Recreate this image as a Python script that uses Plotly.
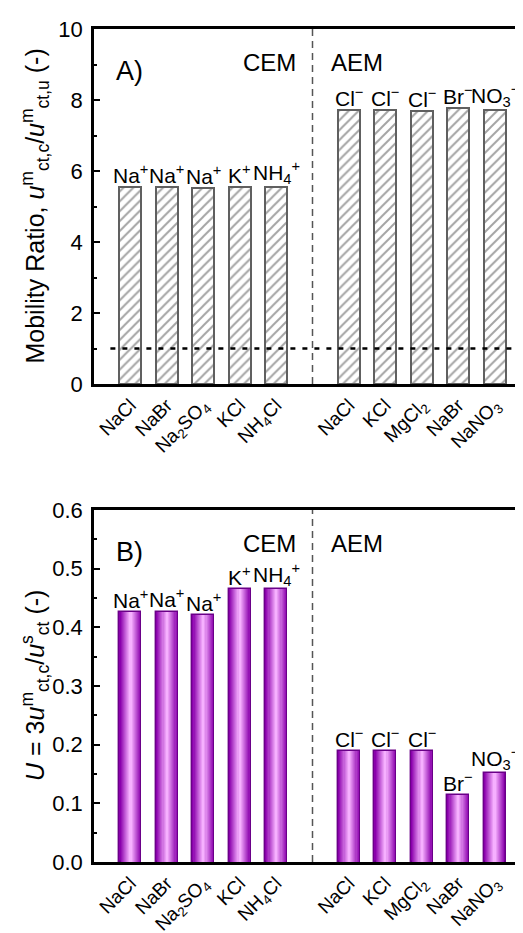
import plotly.graph_objects as go

# ---------------- data ----------------
cem_salts = ["NaCl", "NaBr", "Na<sub>2</sub>SO<sub>4</sub>", "KCl", "NH<sub>4</sub>Cl"]
aem_salts = ["NaCl", "KCl", "MgCl<sub>2</sub>", "NaBr", "NaNO<sub>3</sub>"]
cem_ions = ["Na<sup>+</sup>", "Na<sup>+</sup>", "Na<sup>+</sup>", "K<sup>+</sup>", "NH<sub>4</sub><sup>+</sup>"]
aem_ions = ["Cl<sup>−</sup>", "Cl<sup>−</sup>", "Cl<sup>−</sup>", "Br<sup>−</sup>", "NO<sub>3</sub><sup>−</sup>"]
mobility_cem = [5.55, 5.55, 5.52, 5.54, 5.54]
mobility_aem = [7.71, 7.71, 7.69, 7.77, 7.72]
U_cem = [0.426, 0.427, 0.421, 0.466, 0.466]
U_aem = [0.190, 0.190, 0.190, 0.114, 0.152]
ref_ratio = 1.0

# positions: CEM at 0..4, gap at 5, AEM at 6..10
x_cem = list(range(len(cem_salts)))
x_aem = [len(cem_salts) + 1 + i for i in range(len(aem_salts))]
x_all = x_cem + x_aem
salts_all = cem_salts + aem_salts
ions_all = cem_ions + aem_ions
mob_all = mobility_cem + mobility_aem
U_all = U_cem + U_aem
sep_x = len(cem_salts)

FONT = "Arial, 'Liberation Sans', sans-serif"
BW = 0.6

fig = go.Figure()

# Panel A: hatched bars
fig.add_trace(go.Bar(
    x=x_all, y=mob_all, width=BW, xaxis="x", yaxis="y",
    marker=dict(color="white", line=dict(color="#606060", width=2),
                pattern=dict(shape="/", fgcolor="#4a4a4a", bgcolor="white",
                             size=7, solidity=0.28)),
    showlegend=False, hoverinfo="skip"))

# Panel B: purple gradient bars (stacked overlay layers)
n_layers = 10
dark = (138, 0, 172)
light = (246, 176, 255)
for k in range(n_layers):
    t = k / (n_layers - 1)
    c = tuple(int(dark[i] + (light[i] - dark[i]) * t) for i in range(3))
    w = BW * (1 - k / n_layers)
    fig.add_trace(go.Bar(
        x=x_all, y=U_all, width=w, xaxis="x2", yaxis="y2",
        marker=dict(color="rgb(%d,%d,%d)" % c,
                    line=dict(color="#6a0088" if k == 0 else "rgba(0,0,0,0)",
                              width=1.4 if k == 0 else 0)),
        showlegend=False, hoverinfo="skip"))

ann = []
LBL = 21
for xi, yi, lab in zip(x_all, mob_all, ions_all):
    ann.append(dict(x=xi, y=yi, xref="x", yref="y", text=lab, showarrow=False,
                    yanchor="bottom", yshift=-2, font=dict(size=LBL, color="black", family=FONT)))
for xi, yi, lab in zip(x_all, U_all, ions_all):
    ann.append(dict(x=xi, y=yi, xref="x2", yref="y2", text=lab, showarrow=False,
                    yanchor="bottom", yshift=-2, font=dict(size=LBL, color="black", family=FONT)))

for xr, yr, lbl, ytop in [("x", "y", "A)", 8.82), ("x2", "y2", "B)", 0.529)]:
    ann.append(dict(x=-0.45, y=ytop, xref=xr, yref=yr, text=lbl, showarrow=False,
                    xanchor="left", yanchor="middle", font=dict(size=27, color="black", family=FONT)))
for xr, yr, ytop in [("x", "y", 9.05), ("x2", "y2", 0.543)]:
    ann.append(dict(x=sep_x - 0.4, y=ytop, xref=xr, yref=yr, text="CEM", showarrow=False,
                    xanchor="right", yanchor="middle", font=dict(size=24, color="black", family=FONT)))
    ann.append(dict(x=sep_x + 0.45, y=ytop, xref=xr, yref=yr, text="AEM", showarrow=False,
                    xanchor="left", yanchor="middle", font=dict(size=24, color="black", family=FONT)))

# y-axis titles as rotated annotations so both align at the same x
titleA = "Mobility Ratio, <i>u</i><sup>m</sup><sub>ct,c</sub>/<i>u</i><sup>m</sup><sub>ct,u</sub> (-)"
titleB = "<i>U</i> = 3<i>u</i><sup>m</sup><sub>ct,c</sub>/<i>u</i><sup>s</sup><sub>ct</sub> (-)"
domA = [0.5738, 1.0]
domB = [0.0, 0.4226]
PLOT_W = 523 - 86
title_x = (27 - 86) / PLOT_W
for txt, dom in [(titleA, domA), (titleB, domB)]:
    ann.append(dict(x=title_x, y=(dom[0] + dom[1]) / 2, xref="paper", yref="paper", text=txt,
                    textangle=-90, showarrow=False, xanchor="center", yanchor="middle",
                    font=dict(size=25, color="black", family=FONT)))

shapes = [
    dict(type="line", xref="x", yref="y", x0=-0.55, x1=11, y0=ref_ratio, y1=ref_ratio,
         line=dict(color="black", width=2.5, dash="5px,7px"), layer="above"),
    dict(type="line", xref="x", yref="y domain", x0=sep_x, x1=sep_x, y0=0, y1=1,
         line=dict(color="#555555", width=1.5, dash="7px,5px")),
    dict(type="line", xref="x2", yref="y2 domain", x0=sep_x, x1=sep_x, y0=0, y1=1,
         line=dict(color="#555555", width=1.5, dash="7px,5px")),
]

tickfont = dict(size=22, color="black", family=FONT)
xtickfont = dict(size=19, color="black", family=FONT)

def xax(anchor):
    return dict(range=[-1, 11], tickvals=x_all, ticktext=salts_all, tickangle=-45,
                tickfont=xtickfont, showline=True, linecolor="black", linewidth=2.5,
                mirror=True, ticks="", showgrid=False, zeroline=False, anchor=anchor,
                automargin=False)

def yax(rng, dt, mdt, dom, fmt):
    return dict(range=rng, dtick=dt, domain=dom, tickformat=fmt, tickfont=tickfont,
                showline=True, linecolor="black", linewidth=2.5, ticks="inside",
                ticklen=6, tickwidth=2, tickcolor="black", ticklabelstandoff=4,
                minor=dict(ticks="inside", dtick=mdt, ticklen=3, tickwidth=1.5, tickcolor="black"),
                showgrid=False, zeroline=False, automargin=False)

def yright(over, rng, dt, mdt, dom):
    return dict(overlaying=over, side="right", range=rng, dtick=dt, domain=dom,
                showticklabels=False, showline=False, ticks="inside", ticklen=6, tickwidth=2,
                tickcolor="black",
                minor=dict(ticks="inside", dtick=mdt, ticklen=3, tickwidth=1.5, tickcolor="black"),
                showgrid=False, zeroline=False, automargin=False, anchor="free", position=1)

fig.update_layout(
    width=523, height=933,
    margin=dict(l=86, r=0, t=21, b=79),
    paper_bgcolor="white", plot_bgcolor="white",
    barmode="overlay", bargap=0,
    font=dict(family=FONT, color="black"),
    xaxis=xax("y"),
    xaxis2=xax("y2"),
    yaxis=yax([0, 10], 2, 1, domA, "d"),
    yaxis2=yax([0, 0.6], 0.1, 0.05, domB, ".1f"),
    yaxis3=yright("y", [0, 10], 2, 1, domA),
    yaxis4=yright("y2", [0, 0.6], 0.1, 0.05, domB),
    annotations=ann, shapes=shapes,
)

fig.write_html("out.html")
